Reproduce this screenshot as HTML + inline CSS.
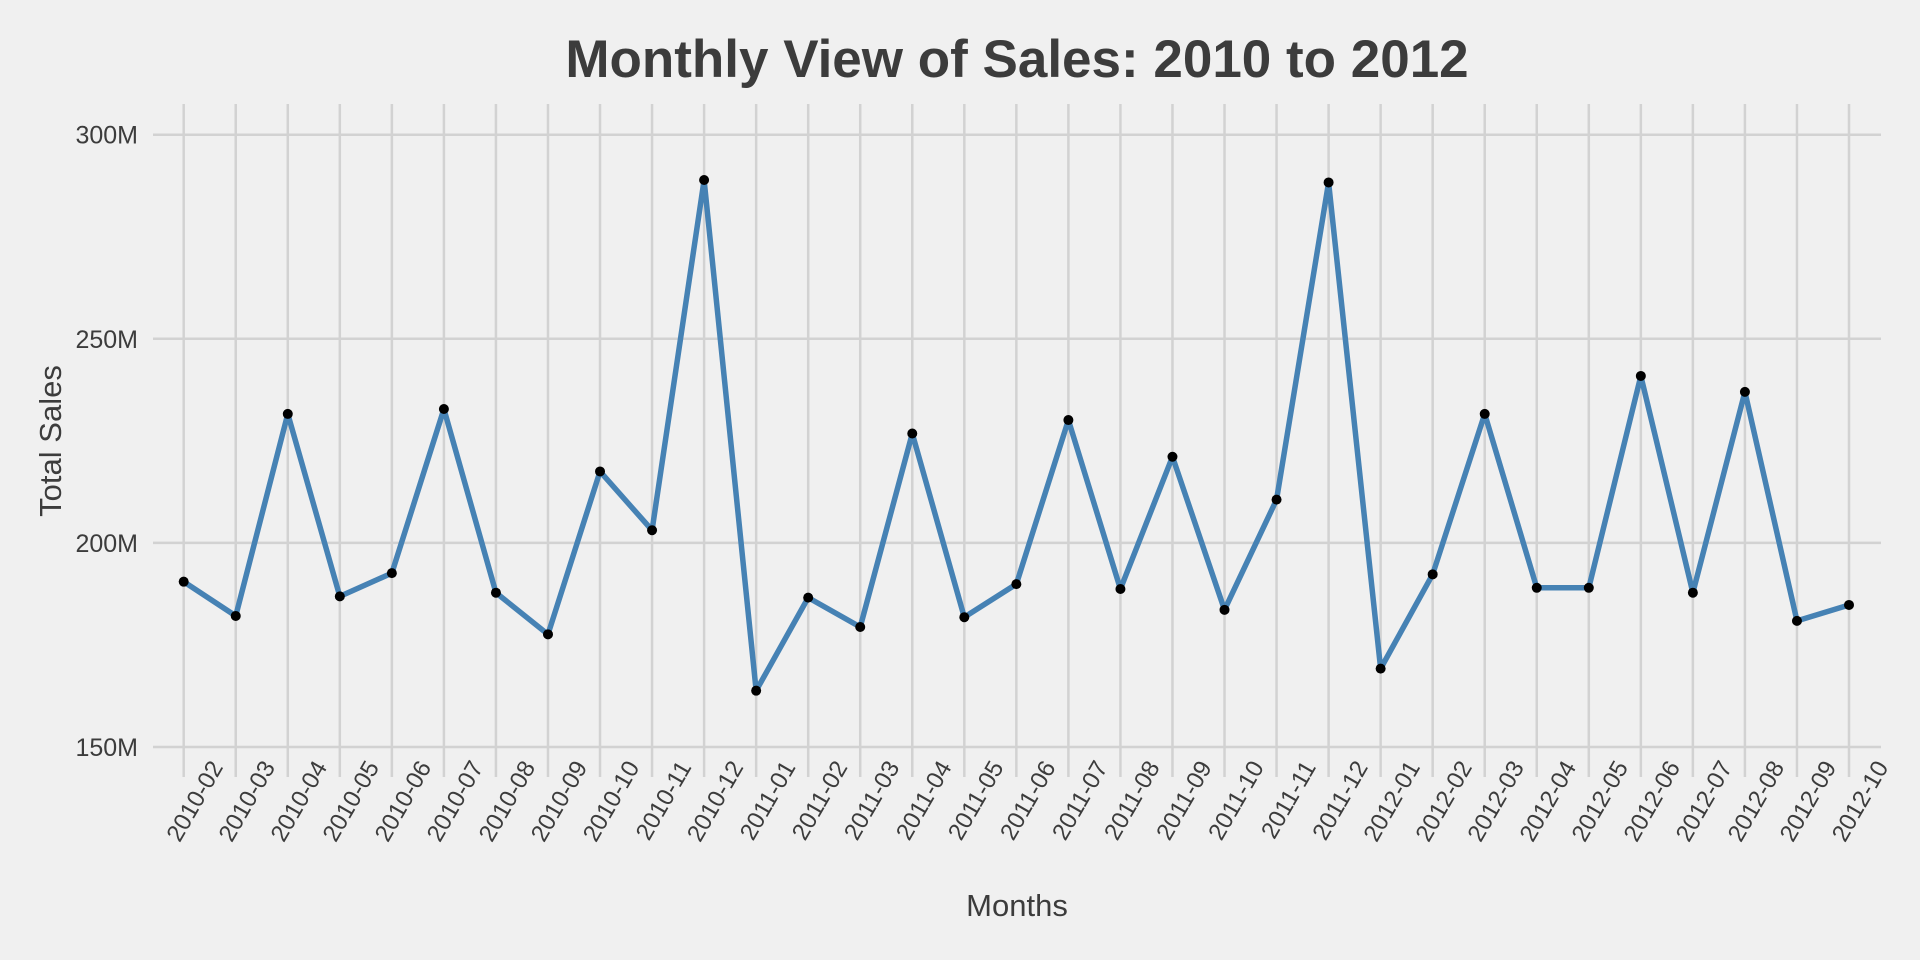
<!DOCTYPE html>
<html><head><meta charset="utf-8"><style>
html,body{margin:0;padding:0;background:#f0f0f0;}
svg{display:block;font-family:"Liberation Sans",sans-serif;}
</style></head><body>
<svg id="chart" width="1920" height="960" viewBox="0 0 1920 960">
<rect width="1920" height="960" fill="#f0f0f0"/>
<text x="1017" y="77" text-anchor="middle" font-size="53" font-weight="bold" fill="#3c3c3c">Monthly View of Sales: 2010 to 2012</text>
<g id="grid"></g>
<g id="marks"></g>
<g id="axes"></g>
<text x="1017" y="916" text-anchor="middle" font-size="31" fill="#3c3c3c">Months</text>
<text transform="translate(61,441) rotate(-90)" text-anchor="middle" font-size="31" fill="#3c3c3c">Total Sales</text>
</svg>
<script>
const months=["2010-02","2010-03","2010-04","2010-05","2010-06","2010-07","2010-08","2010-09","2010-10","2010-11","2010-12","2011-01","2011-02","2011-03","2011-04","2011-05","2011-06","2011-07","2011-08","2011-09","2011-10","2011-11","2011-12","2012-01","2012-02","2012-03","2012-04","2012-05","2012-06","2012-07","2012-08","2012-09","2012-10"];
const sales=[190.5,182.1,231.6,186.9,192.6,232.8,187.8,177.6,217.5,203.1,288.9,163.8,186.6,179.4,226.8,181.8,189.9,230.1,188.7,221.1,183.6,210.6,288.3,169.2,192.3,231.6,189.0,189.0,240.9,187.8,237.0,180.9,184.8];
const yTicks=[150,200,250,300];
const yTickLabels=["150M","200M","250M","300M"];
const NS="http://www.w3.org/2000/svg";
const x0=183.7,x1=1849,y150=747,y300=134.7;
function xs(i){return x0+(x1-x0)*i/(months.length-1);}
function ys(v){return y150+(v-150)*(y300-y150)/150;}
function mk(t,a,p){const e=document.createElementNS(NS,t);for(const k in a)e.setAttribute(k,a[k]);p.appendChild(e);return e;}
const grid=document.getElementById('grid'),marks=document.getElementById('marks'),axes=document.getElementById('axes');
yTicks.forEach((v,i)=>{
 const l=mk('line',{x1:153,x2:1881,y1:ys(v),y2:ys(v),stroke:'#d2d2d2','stroke-width':2.5},grid);
 
 
 const t=mk('text',{x:138,y:ys(v)+9,'text-anchor':'end','font-size':25,fill:'#3c3c3c'},axes);
 t.textContent=yTickLabels[i];
 
 
});
months.forEach((m,i)=>{
 const l=mk('line',{x1:xs(i),x2:xs(i),y1:104,y2:777,stroke:'#d2d2d2','stroke-width':2.5},grid);
 
 
 const t=mk('text',{transform:`translate(${xs(i)+40},${767}) rotate(-60)`,'text-anchor':'end','font-size':24,fill:'#3c3c3c'},axes);
 t.textContent=m;
 
 
});
const pts=sales.map((v,i)=>xs(i)+','+ys(v)).join(' ');
const pl=mk('polyline',{points:pts,fill:'none',stroke:'#4682b4','stroke-width':5.5,'stroke-linejoin':'round'},marks);


sales.forEach((v,i)=>{
 const c=mk('circle',{cx:xs(i),cy:ys(v),r:5,fill:'#000'},marks);
 
 
});
</script>
</body></html>
